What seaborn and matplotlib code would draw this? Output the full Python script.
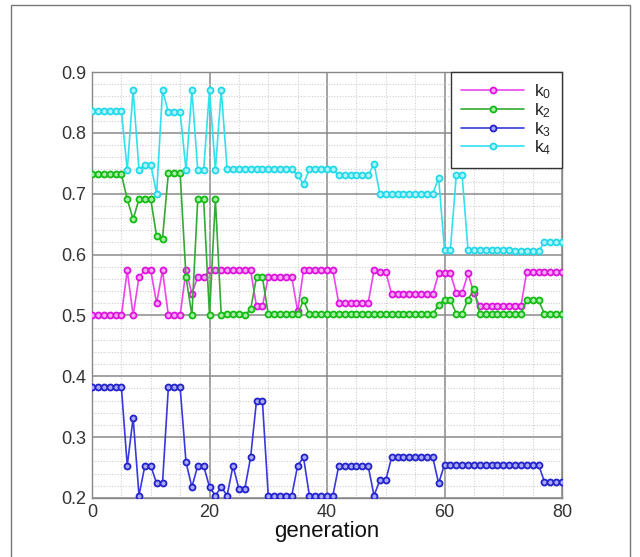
import numpy as np
import pandas as pd
import matplotlib
matplotlib.use("Agg")
import matplotlib.pyplot as plt
import matplotlib.patches as mpatches
from matplotlib.ticker import MultipleLocator
import seaborn as sns

generation = list(range(81))

k0 = ([0.5]*6 + [0.574, 0.5, 0.563, 0.574, 0.574, 0.52, 0.574] + [0.5]*3 +
      [0.574, 0.536, 0.563, 0.563] + [0.574]*8 + [0.515]*2 + [0.563]*5 +
      [0.507] + [0.574]*6 + [0.52]*6 + [0.574, 0.572, 0.572] + [0.535]*8 +
      [0.569]*3 + [0.537, 0.537, 0.569, 0.537] + [0.515]*8 + [0.572]*7)

k2 = ([0.732]*6 + [0.691, 0.658, 0.691, 0.691, 0.691, 0.63, 0.626] + [0.734]*3 +
      [0.563, 0.5, 0.691, 0.691, 0.5, 0.691, 0.5, 0.502, 0.503, 0.502, 0.5, 0.51,
       0.563, 0.563] + [0.502]*6 + [0.525] + [0.502]*22 +
      [0.517, 0.526, 0.526, 0.503, 0.503, 0.526, 0.543] + [0.503]*8 +
      [0.525]*3 + [0.503]*4)

k3 = ([0.382]*6 + [0.253, 0.332, 0.204, 0.253, 0.253, 0.224, 0.224] + [0.382]*3 +
      [0.259, 0.218, 0.253, 0.253, 0.218, 0.204, 0.218, 0.204, 0.253, 0.215, 0.215,
       0.267, 0.36, 0.36] + [0.204]*5 + [0.253, 0.267] + [0.204]*5 + [0.253]*6 +
      [0.204, 0.229, 0.229] + [0.267]*8 + [0.224] + [0.255]*17 + [0.227]*4)

k4 = ([0.836]*6 + [0.739, 0.87, 0.739, 0.748, 0.748, 0.70, 0.87] + [0.834]*3 +
      [0.739, 0.87, 0.739, 0.739, 0.87, 0.739, 0.87] + [0.74]*12 + [0.73, 0.716] +
      [0.74]*5 + [0.73]*6 + [0.749] + [0.70]*10 + [0.726, 0.608, 0.608, 0.73, 0.73] +
      [0.608]*8 + [0.606]*5 + [0.62]*4)

labels = [r"$\mathrm{k}_0$", r"$\mathrm{k}_2$", r"$\mathrm{k}_3$", r"$\mathrm{k}_4$"]
series = [k0, k2, k3, k4]
line_colors = ["#ee44ee", "#33aa33", "#3838dd", "#33e0ee"]
edge_colors = ["#dd11dd", "#11bb11", "#2222cc", "#22d8e8"]
face_colors = ["#f8a8f8", "#a8eea8", "#a8a8f4", "#b0f4fa"]

sns.set_theme(style="white")
plt.rcParams["font.family"] = ["Liberation Sans", "DejaVu Sans"]
plt.rcParams["mathtext.fontset"] = "custom"
plt.rcParams["mathtext.rm"] = "Liberation Sans"
plt.rcParams["mathtext.it"] = "Liberation Sans:italic"

fig = plt.figure(figsize=(6.4, 5.57), dpi=100)
ax = fig.add_axes([92/640, 1-498/557, (562-92)/640, (498-72)/557])

for lab, vals, lc, ec, fc in zip(labels, series, line_colors, edge_colors, face_colors):
    df = pd.DataFrame({"generation": generation, "value": vals})
    sns.lineplot(data=df, x="generation", y="value", ax=ax, color=lc, lw=1.2,
                 marker="o", markersize=4.3, markeredgecolor=ec,
                 markerfacecolor=fc, markeredgewidth=1.3, label=lab, zorder=3)

ax.set_xlim(0, 80)
ax.set_ylim(0.2, 0.9)
ax.xaxis.set_major_locator(MultipleLocator(20))
ax.xaxis.set_minor_locator(MultipleLocator(5))
ax.yaxis.set_major_locator(MultipleLocator(0.1))
ax.yaxis.set_minor_locator(MultipleLocator(0.02))
ax.grid(True, which="major", color="#8a8a8a", lw=1.1, ls="-", zorder=1)
ax.grid(True, which="minor", color="#cfcfcf", lw=0.8, ls=(0, (1, 1.5)), zorder=1)
ax.set_axisbelow(True)
ax.set_yticks(np.round(np.arange(0.2, 0.91, 0.1), 1))
ax.set_yticklabels([f"{v:.1f}" for v in np.arange(0.2, 0.91, 0.1)])
ax.tick_params(axis="both", which="both", length=0, labelsize=13, colors="#333333", pad=4)
for s in ax.spines.values():
    s.set_color("#888888")
    s.set_linewidth(1.0)
ax.set_xlabel("generation", fontsize=16, color="#111111", labelpad=0)
ax.set_ylabel("")

leg = ax.legend(loc="upper right", borderaxespad=0, fancybox=False, frameon=True,
                fontsize=12.5, handlelength=3.6, handletextpad=0.6, labelspacing=0.0,
                borderpad=0.6)
leg.get_frame().set_edgecolor("#333333")
leg.get_frame().set_linewidth(1.0)
leg.get_frame().set_alpha(1)

fig.patches.append(mpatches.Rectangle((11/640, -0.01), (630-11)/640, 1.01 - 5/557,
                                      transform=fig.transFigure, fill=False,
                                      edgecolor="#777777", lw=1.0))

fig.savefig("out.png", dpi=100)
